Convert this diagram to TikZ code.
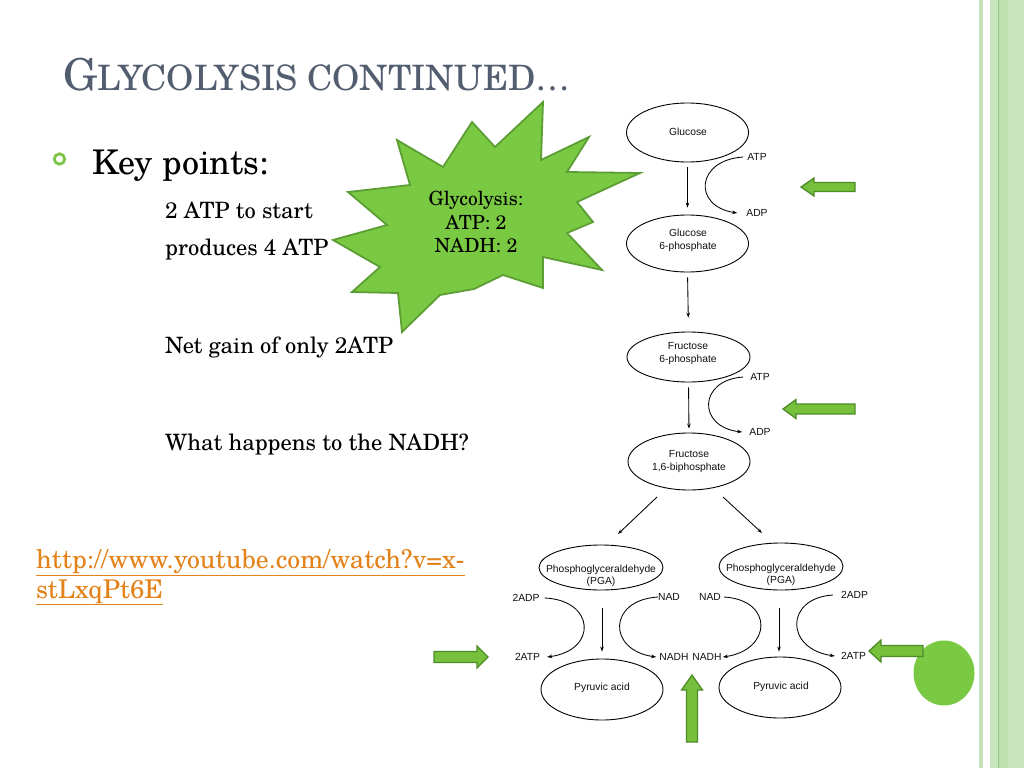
\documentclass[tikz,border=0pt]{standalone}
\usepackage{fontspec}
\setmainfont{TeX Gyre Schola}
\usetikzlibrary{shapes.geometric,arrows.meta}
\newfontfamily\diagfont{Liberation Sans}
\definecolor{titlecol}{RGB}{82,94,112}
\definecolor{linkcol}{RGB}{228,130,26}
\definecolor{starfill}{RGB}{122,201,67}
\definecolor{starline}{RGB}{92,158,52}
\definecolor{arrfill}{RGB}{118,192,60}
\definecolor{arrline}{RGB}{78,140,40}
\definecolor{bulcol}{RGB}{125,196,72}
\definecolor{stripeA}{RGB}{196,226,184}
\definecolor{stripeB}{RGB}{200,229,189}
\definecolor{stripeC}{RGB}{190,223,176}
\definecolor{stripeD}{RGB}{150,200,130}
\definecolor{diagtext}{RGB}{15,15,15}
\begin{document}
\begin{tikzpicture}[x=1pt,y=-1pt,
  ell/.style={draw=black, line width=0.9pt, shape=ellipse, inner sep=0pt},
  dtext/.style={font=\diagfont\fontsize{10.3}{12.5}\selectfont, text=diagtext, align=center, inner sep=1pt},
  conn/.style={draw=black, line width=0.85pt, -{Stealth[length=5pt,width=3.6pt]}},
  body/.style={font=\fontsize{22.5}{26}\selectfont, anchor=base west, inner sep=0pt},
  garrow/.style={fill=arrfill, draw=arrline, line width=1.3pt, line join=miter}
]
\useasboundingbox (0,0) rectangle (1024,768);
\fill[white] (0,0) rectangle (1024,768);
% right border stripes
\fill[stripeA] (979,0) rectangle (983,768);
\fill[stripeB] (990,0) rectangle (1024,768);
\fill[stripeC] (998,0) rectangle (1008,768);
\draw[stripeD, line width=0.8pt] (998,0) -- (998,768);

% title
\node[anchor=base west, inner sep=0pt, text=titlecol] (title) at (63,90)
  {\fontsize{44}{48}\selectfont G\fontsize{35}{40}\selectfont LYCOLYSIS CONTINUED\ldots};

% bullet
\draw[bulcol, line width=2.8pt] (59.5,159) circle (5.2);
\node[anchor=base west, inner sep=0pt, font=\fontsize{34}{40}\selectfont] (key) at (92,174) {Key points:};

\node[body] (t1) at (165,218) {2 ATP to start};
\node[body] (t2) at (165,255) {produces 4 ATP};
\node[body] (t3) at (165,353) {Net gain of only 2ATP};
\node[body] (t4) at (165,450) {What happens to the NADH?};

% link
\node[anchor=base west, inner sep=0pt, text=linkcol, font=\fontsize{25.8}{30}\selectfont] (link1) at (36,568) {\underline{http://www.youtube.com/watch?v=x-}};
\node[anchor=base west, inner sep=0pt, text=linkcol, font=\fontsize{25.8}{30}\selectfont] (link2) at (36,598) {\underline{stLxqPt6E}};

% starburst
\filldraw[fill=starfill, draw=starline, line width=1.8pt, line join=miter]
  (543,102) -- (541,160) -- (589,137) -- (567,172) -- (640,173) -- (577,202) --
  (593,222) -- (567,233) -- (602,270) -- (543,257) -- (543,288) -- (503,275) --
  (474,289) -- (440,295) -- (402,332) -- (398,293) -- (352,292) -- (380,267) --
  (333,240) -- (387,225) -- (348,192) -- (410,185) -- (397,140) -- (443,167) --
  (472,122) -- (495,147) -- cycle;
\node[align=center, inner sep=0pt, font=\fontsize{19.5}{23.5}\selectfont] (startext) at (476,222)
  {Glycolysis:\\ATP: 2\\NADH: 2};

% ellipses
\node[ell, minimum width=122pt, minimum height=59pt] (glu) at (687.5,132.5) {};
\node[ell, minimum width=122pt, minimum height=57pt] (g6p) at (687.5,243.5) {};
\node[ell, minimum width=123pt, minimum height=50pt] (f6p) at (688.5,357) {};
\node[ell, minimum width=122pt, minimum height=57pt] (f16) at (689,461.5) {};
\node[ell, minimum width=124pt, minimum height=45pt] (pga1) at (601,567.5) {};
\node[ell, minimum width=124pt, minimum height=47pt] (pga2) at (781,566.5) {};
\node[ell, minimum width=122pt, minimum height=61pt] (pyr1) at (602,689.5) {};
\node[ell, minimum width=122pt, minimum height=61pt] (pyr2) at (780,687.5) {};

% ellipse texts
\node[dtext] (tglu) at (688,132) {Glucose};
\node[dtext] (tg6p) at (688,240.5) {Glucose\\6-phosphate};
\node[dtext] (tf6p) at (688,353.5) {Fructose\\6-phosphate};
\node[dtext] (tf16) at (689,461.5) {Fructose\\1,6-biphosphate};
\node[dtext] (tpga1) at (601,576) {Phosphoglyceraldehyde\\(PGA)};
\node[dtext] (tpga2) at (781,575) {Phosphoglyceraldehyde\\(PGA)};
\node[dtext] (tpyr1) at (602,688) {Pyruvic acid};
\node[dtext] (tpyr2) at (781,687) {Pyruvic acid};

% small labels
\node[dtext] (atpa) at (757,157) {ATP};
\node[dtext] (adpa) at (757,213) {ADP};
\node[dtext] (atpb) at (760,377) {ATP};
\node[dtext] (adpb) at (760,432) {ADP};
\node[dtext] (adpl) at (526,598) {2ADP};
\node[dtext] (nadl) at (669,597) {NAD};
\node[dtext] (nadr) at (710,597) {NAD};
\node[dtext] (adpr) at (854.5,595) {2ADP};
\node[dtext] (atpl) at (527.5,657) {2ATP};
\node[dtext] (nadhl) at (674,657) {NADH};
\node[dtext] (nadhr) at (707,657) {NADH};
\node[dtext] (atpr) at (853.5,656) {2ATP};

% main vertical arrows
\draw[conn, shorten <=5pt, shorten >=7pt] (glu.south) -- (g6p.north);
\draw[conn, shorten <=5pt, shorten >=14pt] (g6p.south) -- (f6p.north);
\draw[conn, shorten <=5pt, shorten >=4pt] (f6p.south) -- (f16.north);

% ATP/ADP curves
\draw[conn] ([xshift=-3pt]atpa.west) .. controls +(-47,3) and +(-45,-7) .. ([xshift=-8pt]adpa.west);
\draw[conn] ([xshift=-6pt]atpb.west) .. controls +(-45,3) and +(-45,-5) .. ([xshift=-6pt]adpb.west);

% diagonals
\coordinate (d1a) at (657,497);
\coordinate (d1b) at (618,534);
\coordinate (d2a) at (723,497);
\coordinate (d2b) at (762,533);
\draw[conn] (d1a) -- (d1b);
\draw[conn] (d2a) -- (d2b);

% PGA to pyruvic
\coordinate (v1a) at (602,608);
\coordinate (v2a) at (779,608);
\draw[conn, shorten >=7pt] (v1a) -- (v1a |- pyr1.north);
\draw[conn, shorten >=5pt] (v2a) -- (v2a |- pyr2.north);

% lower curves
\draw[conn] ([xshift=4pt]adpl.east) .. controls +(50,2) and +(51,-7) .. ([xshift=6pt]atpl.east);
\draw[conn] ([xshift=1pt]nadl.west) .. controls +(-50,3) and +(-49,-7) .. ([xshift=-2pt]nadhl.west);
\draw[conn] ([xshift=2pt]nadr.east) .. controls +(50,3) and +(49,-7) .. ([xshift=0pt]nadhr.east);
\draw[conn] ([xshift=-7pt]adpr.west) .. controls +(-48,3) and +(-50,-7) .. ([xshift=-5pt]atpr.west);

% green circle
\fill[starfill] (944,673) ellipse (30.5 and 32.5);

% green block arrows
\filldraw[garrow] (801,187) -- (814,178) -- (814,182.5) -- (855,182.5) -- (855,191.5) -- (814,191.5) -- (814,196) -- cycle;
\filldraw[garrow] (783,409) -- (796,399.5) -- (796,404) -- (855,404) -- (855,414) -- (796,414) -- (796,418.5) -- cycle;
\filldraw[garrow] (488,657) -- (477,646) -- (477,651.5) -- (434,651.5) -- (434,662.5) -- (477,662.5) -- (477,668) -- cycle;
\filldraw[garrow] (692,675) -- (681.5,690) -- (686.5,690) -- (686.5,742) -- (697.5,742) -- (697.5,690) -- (702.5,690) -- cycle;
\filldraw[garrow] (869,651) -- (881,640) -- (881,645.5) -- (923,645.5) -- (923,656.5) -- (881,656.5) -- (881,662) -- cycle;
\end{tikzpicture}
\end{document}
